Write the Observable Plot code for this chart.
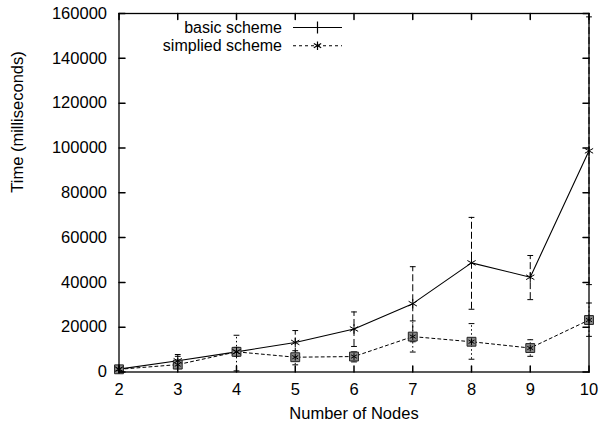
<!DOCTYPE html>
<html>
<head>
<meta charset="utf-8">
<script src="https://cdn.jsdelivr.net/npm/d3@7"></script>
<script src="https://cdn.jsdelivr.net/npm/@observablehq/plot@0.6"></script>
<style>
  body { margin: 0; background: white; }
  #wrap { position: relative; width: 602px; height: 425px; }
  #legend { position: absolute; left: 0; top: 0; }
</style>
</head>
<body>
<div id="wrap"></div>
<script>
// ---- data ----
const nodes      = [2, 3, 4, 5, 6, 7, 8, 9, 10];
const basicMean  = [1300, 5000, 9000, 13200, 19200, 30500, 48700, 42300, 98700];
const basicLow   = [800, 3000, 7000, 7500, 11400, 13500, 28000, 32300, 39000];
const basicHigh  = [1800, 7000, 11000, 18500, 26800, 47000, 69000, 52000, 158500];
const simpMean   = [1200, 3300, 9000, 6600, 6900, 15800, 13500, 10700, 23200];
const simpLow    = [600, 1500, 500, 3200, 4500, 8900, 5700, 7000, 15900];
const simpHigh   = [1800, 7800, 16400, 9500, 9000, 22800, 21600, 14400, 30800];
const xTicks     = [2, 3, 4, 5, 6, 7, 8, 9, 10];
const yTicks     = [0, 20000, 40000, 60000, 80000, 100000, 120000, 140000, 160000];
const seriesNames = ["basic scheme", "simplied scheme"];

const basic = nodes.map((n, i) => ({n, m: basicMean[i], lo: basicLow[i], hi: basicHigh[i]}));
const simp  = nodes.map((n, i) => ({n, m: simpMean[i], lo: simpLow[i], hi: simpHigh[i]}));

const FONT = "'Liberation Sans', Arial, Helvetica, sans-serif";
const FS = 16.5;
const tickShape = {draw(ctx, l) { ctx.moveTo(0, 0); ctx.lineTo(0, -l); }};
const capShape  = {draw(ctx, l) { ctx.moveTo(-l, 0); ctx.lineTo(l, 0); }};

const errMarks = (data, dash) => [
  Plot.ruleX(data, {x: "n", y1: "lo", y2: "hi", stroke: "black", strokeWidth: 1, strokeDasharray: dash}),
  Plot.vector(data, {x: "n", y: "lo", length: 2.5, rotate: 0, anchor: "start", shape: capShape, stroke: "black", strokeWidth: 1}),
  Plot.vector(data, {x: "n", y: "hi", length: 2.5, rotate: 0, anchor: "start", shape: capShape, stroke: "black", strokeWidth: 1})
];

const chart = Plot.plot({
  width: 602,
  height: 425,
  marginLeft: 118.5,
  marginRight: 13.5,
  marginTop: 13,
  marginBottom: 53.5,
  style: {fontFamily: FONT, fontSize: FS + "px", background: "white", color: "black"},
  x: {domain: [2, 10]},
  y: {domain: [0, 160000]},
  marks: [
    // error bars
    ...errMarks(simp, "1.5,2.5"),
    ...errMarks(basic, "7,3"),
    // lines
    Plot.line(simp, {x: "n", y: "m", stroke: "black", strokeWidth: 1, strokeDasharray: "3,3"}),
    Plot.line(basic, {x: "n", y: "m", stroke: "black", strokeWidth: 1.1}),
    // points
    Plot.dot(simp, {x: "n", y: "m", symbol: "square", r: 5, stroke: "#222", fill: "#888", strokeWidth: 1}),
    Plot.dot(simp, {x: "n", y: "m", symbol: "asterisk", r: 3.2, stroke: "black", strokeWidth: 1}),
    Plot.dot(basic, {x: "n", y: "m", symbol: "asterisk", r: 4.5, stroke: "black", strokeWidth: 1}),
    // frame
    Plot.frame({stroke: "black", strokeWidth: 1.3}),
    // inward ticks on all four sides
    Plot.vector(xTicks, {x: d => d, frameAnchor: "bottom", length: 6, rotate: 0, anchor: "start", shape: tickShape, stroke: "black"}),
    Plot.vector(xTicks, {x: d => d, frameAnchor: "top", length: 6, rotate: 180, anchor: "start", shape: tickShape, stroke: "black"}),
    Plot.vector(yTicks, {y: d => d, frameAnchor: "left", length: 6, rotate: 90, anchor: "start", shape: tickShape, stroke: "black"}),
    Plot.vector(yTicks, {y: d => d, frameAnchor: "right", length: 6, rotate: 270, anchor: "start", shape: tickShape, stroke: "black"}),
    // tick labels
    Plot.axisX({ticks: xTicks, tickSize: 0, tickPadding: 11, label: null, tickFormat: d => String(d), fontSize: FS}),
    Plot.axisY({ticks: yTicks, tickSize: 0, tickPadding: 12, label: null, tickFormat: d => String(d), fontSize: FS}),
    // axis titles
    Plot.text(["Number of Nodes"], {frameAnchor: "bottom", dy: 41.5, lineAnchor: "middle", fontSize: FS, fill: "black"}),
    Plot.text(["Time (milliseconds)"], {frameAnchor: "left", dx: -101, rotate: -90, lineAnchor: "middle", fontSize: FS, fill: "black"})
  ]
});

const wrap = document.getElementById("wrap");
wrap.appendChild(chart);

// ---- legend (overlay, top-left inside the frame) ----
const LFS = 16;
const leg = d3.select(wrap).append("svg")
  .attr("id", "legend")
  .attr("width", 602).attr("height", 60)
  .style("font-family", FONT).style("font-size", LFS + "px");

const rows = [
  {name: seriesNames[0], dash: null, sym: d3.symbolPlus, size: 50},
  {name: seriesNames[1], dash: "3,3", sym: d3.symbolAsterisk, size: 50}
];
rows.forEach((r, i) => {
  const cy = 27.5 + i * 18.2;
  leg.append("text").attr("x", 282).attr("y", cy).attr("dy", "0.35em")
    .attr("text-anchor", "end").attr("fill", "black").text(r.name);
  leg.append("line").attr("x1", 293).attr("x2", 342).attr("y1", cy).attr("y2", cy)
    .attr("stroke", "black").attr("stroke-width", 1.1)
    .attr("stroke-dasharray", r.dash);
  leg.append("path").attr("d", d3.symbol(r.sym, r.size)())
    .attr("transform", `translate(317.5,${cy})`)
    .attr("fill", "none").attr("stroke", "black").attr("stroke-width", 1.2);
});
</script>
</body>
</html>
